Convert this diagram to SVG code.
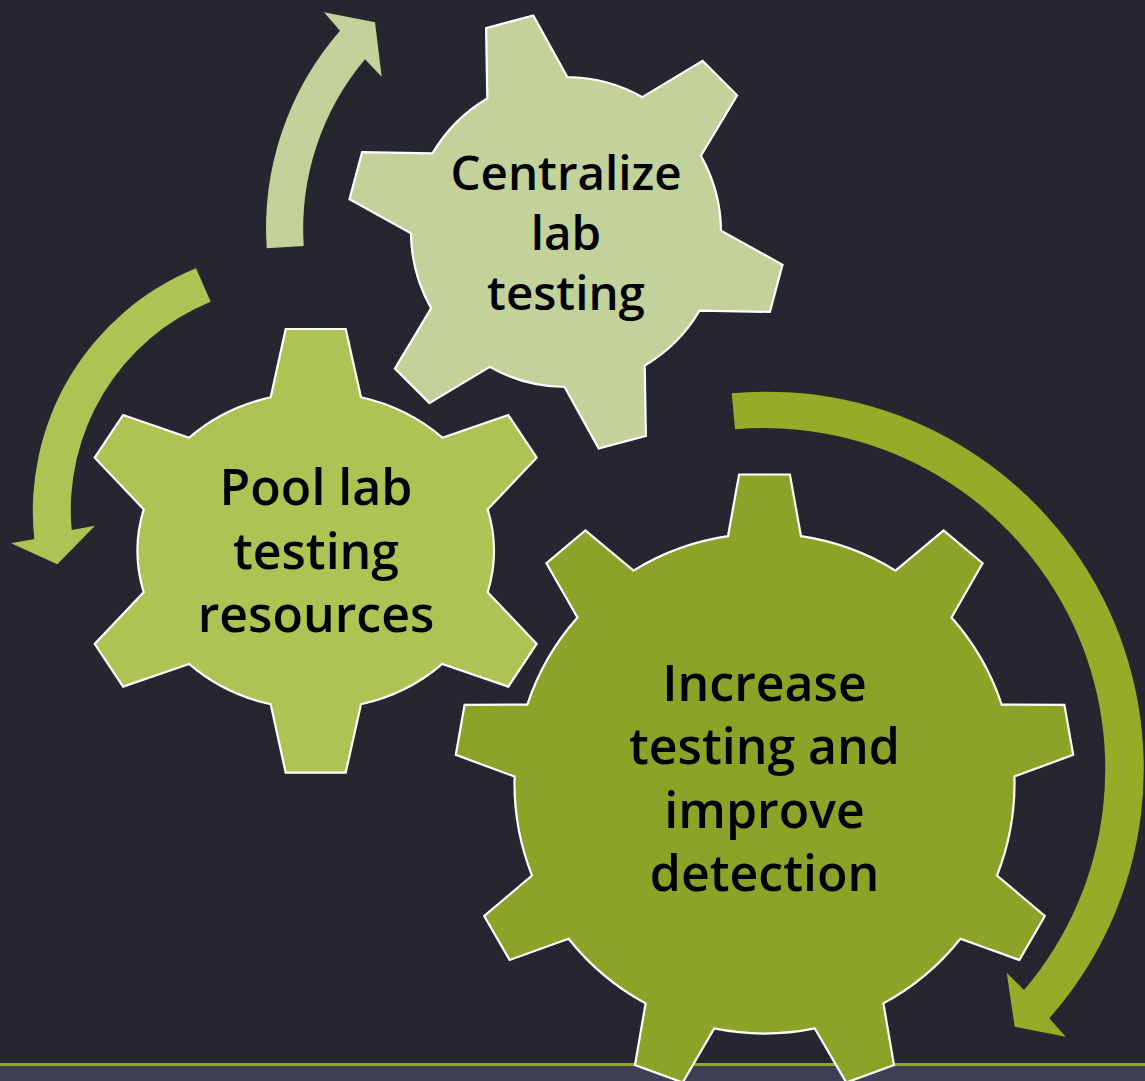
<svg xmlns="http://www.w3.org/2000/svg" width="1145" height="1081" viewBox="0 0 1145 1081">
<style>
.gear{stroke:#ffffff;stroke-width:2.2;stroke-linejoin:miter}
.t{font-family:"Open Sans","Noto Sans","DejaVu Sans",sans-serif;font-weight:600;font-size:50px;fill:#000000;text-anchor:middle}
.t1{font-size:47.5px}
</style>
<rect x="0" y="0" width="1145" height="1081" fill="#262631"/>
<rect x="0" y="1063" width="1145" height="3" fill="#8FA82A"/>
<rect x="0" y="1066" width="1145" height="15" fill="#404055"/>
<g id="connectors">
<path id="arrow-top" fill="#C3D29B" d="M 266.7,248.3 A 301 301 0 0 1 340,30.7 L 324,12.3 L 375,22.3 L 381.7,76.7 L 365,59.3 A 264 264 0 0 0 303.7,246 Z"/>
<path id="arrow-left" fill="#ADC454" d="M 196,268.3 A 262 262 0 0 0 34.3,539 L 11,543.3 L 57.3,564.3 L 95,525.7 L 71.7,530 A 225 225 0 0 1 210.7,301.7 Z"/>
<path id="arrow-right" fill="#94AC28" d="M 731.7,393.3 A 377 377 0 0 1 1049.3,1018.3 L 1065.7,1036.7 L 1014.7,1026.7 L 1006.7,972.7 L 1024,990 A 341 341 0 0 0 735,429.3 Z"/>
</g>
<g id="gear-increase">
<path class="gear" fill="#8BA327" d="M 728.0,536.2 L 739.1,474.5 L 789.9,474.5 L 801.0,536.2 A 250 250 0 0 1 895.5,570.6 L 943.6,530.5 L 982.6,563.2 L 951.5,617.5 A 250 250 0 0 1 1001.7,704.6 L 1064.4,704.8 L 1073.2,754.9 L 1014.4,776.5 A 250 250 0 0 1 997.0,875.5 L 1044.8,916.0 L 1019.4,960.0 L 960.4,938.8 A 250 250 0 0 1 883.4,1003.4 L 894.0,1065.1 L 846.3,1082.5 L 814.8,1028.4 A 250 250 0 0 1 714.2,1028.4 L 682.7,1082.5 L 635.0,1065.1 L 645.6,1003.4 A 250 250 0 0 1 568.6,938.8 L 509.6,960.0 L 484.2,916.0 L 532.0,875.5 A 250 250 0 0 1 514.6,776.5 L 455.8,754.9 L 464.6,704.8 L 527.3,704.6 A 250 250 0 0 1 577.5,617.5 L 546.4,563.2 L 585.4,530.5 L 633.5,570.6 A 250 250 0 0 1 728.0,536.2 Z"/>
<text class="t" x="764.5" y="701">Increase</text>
<text class="t" x="764.5" y="764">testing and</text>
<text class="t" x="764.5" y="827.5">improve</text>
<text class="t" x="764.5" y="891">detection</text>
</g>
<g id="gear-pool">
<path class="gear" fill="#ADC454" d="M 270.7,397.3 L 285.7,329 L 345.7,329 L 361,397.3 A 179 159 0 0 1 442.3,437.7 L 508.3,415 L 536.7,457.7 L 487.7,509.3 A 179 159 0 0 1 487.7,592.3 L 536.7,643.9 L 508.3,686.6 L 442.3,663.9 A 179 159 0 0 1 361,704.3 L 345.7,772.7 L 285.7,772.7 L 270.7,704.3 A 179 159 0 0 1 189.1,663.9 L 123.1,686.6 L 94.7,643.9 L 143.7,592.3 A 179 159 0 0 1 143.7,509.3 L 94.7,457.7 L 123.1,415 L 189.1,437.7 A 179 159 0 0 1 270.7,397.3 Z"/>
<text class="t" x="316" y="505">Pool lab</text>
<text class="t" x="316" y="568.5">testing</text>
<text class="t" x="316" y="632">resources</text>
</g>
<g id="gear-centralize">
<path class="gear" fill="#C3D29B" d="M 487.3,98.5 L 486.1,28.1 L 533.3,15.5 L 567.3,77 A 155 155 0 0 1 642.3,97.1 L 702.6,60.9 L 737.1,95.4 L 700.9,155.7 A 155 155 0 0 1 721,230.6 L 782.5,264.7 L 769.9,311.9 L 699.5,310.7 A 155 155 0 0 1 644.7,365.5 L 645.9,435.9 L 598.7,448.5 L 564.6,387 A 155 155 0 0 1 489.7,366.9 L 429.4,403.1 L 394.9,368.6 L 431.1,308.3 A 155 155 0 0 1 411,233.4 L 349.5,199.3 L 362.1,152.1 L 432.5,153.3 A 155 155 0 0 1 487.3,98.5 Z"/>
<text class="t t1" x="566" y="190">Centralize</text>
<text class="t t1" x="566" y="250">lab</text>
<text class="t t1" x="566" y="310">testing</text>
</g>
</svg>
